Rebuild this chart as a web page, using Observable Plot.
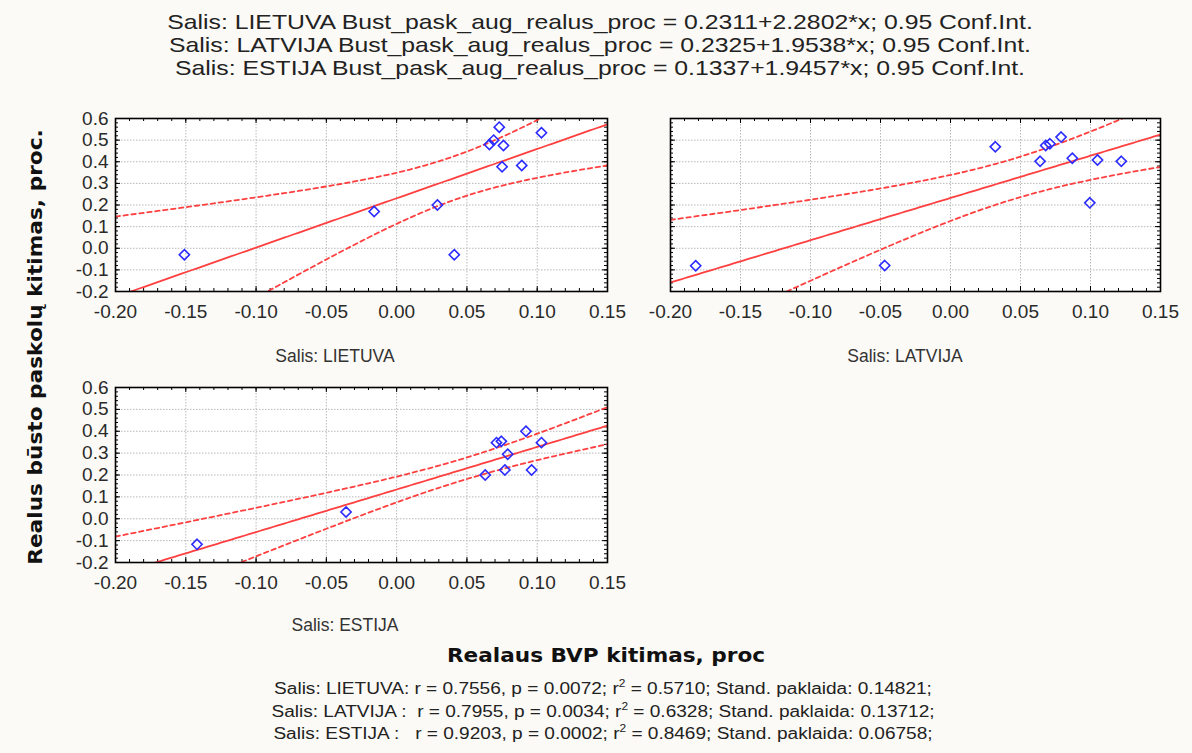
<!DOCTYPE html>
<html>
<head>
<meta charset="utf-8">
<script src="https://cdn.jsdelivr.net/npm/d3@7"></script>
<script src="https://cdn.jsdelivr.net/npm/@observablehq/plot@0.6"></script>
<style>
  body { margin: 0; background: #fcfaf6; }
  #root { position: relative; width: 1192px; height: 753px; background: #fcfaf6; overflow: hidden; font-family: "Liberation Sans", Arial, sans-serif; color: #222; }
  .c { position: absolute; transform: translate(-50%, -50%); white-space: pre; }
  .panel { position: absolute; }
</style>
</head>
<body>
<div id="root"></div>
<script>
// ---- data ----
const countries = ["LIETUVA", "LATVIJA", "ESTIJA"];
const ltX = [-0.151, -0.016, 0.029, 0.041, 0.066, 0.069, 0.073, 0.076, 0.075, 0.089, 0.103];
const ltY = [-0.030, 0.170, 0.200, -0.030, 0.480, 0.500, 0.560, 0.475, 0.377, 0.383, 0.534];
const lvX = [-0.182, -0.047, 0.032, 0.064, 0.068, 0.071, 0.079, 0.087, 0.0995, 0.105, 0.122];
const lvY = [-0.081, -0.080, 0.469, 0.402, 0.475, 0.483, 0.514, 0.416, 0.210, 0.408, 0.402];
const eeX = [-0.142, -0.036, 0.063, 0.071, 0.0745, 0.079, 0.077, 0.092, 0.096, 0.103];
const eeY = [-0.117, 0.031, 0.200, 0.348, 0.354, 0.295, 0.223, 0.400, 0.223, 0.348];
const intercepts = [0.2311, 0.2325, 0.1337];
const slopes = [2.2802, 1.9538, 1.9457];
const stdErrs = [0.14821, 0.13712, 0.06758];
const tCrit = [2.262, 2.262, 2.306];
const rVals = ["0.7556", "0.7955", "0.9203"];
const pVals = ["0.0072", "0.0034", "0.0002"];
const r2Vals = ["0.5710", "0.6328", "0.8469"];
const seLabels = ["0.14821", "0.13712", "0.06758"];
const xTicks = [-0.20, -0.15, -0.10, -0.05, 0.00, 0.05, 0.10, 0.15];
const yTicks = [-0.2, -0.1, 0.0, 0.1, 0.2, 0.3, 0.4, 0.5, 0.6];
const xMinor = d3.range(-20, 16).map(i => i / 100);
const yMinor = d3.range(-10, 31).map(i => i / 50);

const xsAll = [ltX, lvX, eeX];
const ysAll = [ltY, lvY, eeY];

const root = document.getElementById("root");

function addText(txt, cx, cy, style) {
  const d = document.createElement("div");
  d.className = "c";
  d.innerHTML = txt;
  d.style.left = cx + "px";
  d.style.top = cy + "px";
  Object.assign(d.style, style || {});
  root.appendChild(d);
  return d;
}

// ---- titles ----
countries.forEach((c, i) => {
  addText(`Salis: ${c} Bust_pask_aug_realus_proc = ${intercepts[i].toFixed(4)}+${slopes[i].toFixed(4)}*x; 0.95 Conf.Int.`,
    600, 22 + i * 23, {fontSize: "21px", color: "#222", transform: "translate(-50%, -50%) scaleX(1.18)"});
});

// ---- panels ----
const red = "#ff4040";
const blue = "#2b2bff";
const layouts = [
  {fl: 115, fr: 607, ft: 118, fb: 291, yLabels: true},
  {fl: 670, fr: 1160, ft: 118, fb: 291, yLabels: false},
  {fl: 115, fr: 607, ft: 387, fb: 562, yLabels: true}
];
const mL = 55, mR = 25, mT = 8, mB = 34;

layouts.forEach((L, i) => {
  const xs = xsAll[i], ys = ysAll[i];
  const pts = xs.map((x, j) => ({x, y: ys[j]}));
  const n = xs.length;
  const xbar = d3.mean(xs);
  const sxx = d3.sum(xs, x => (x - xbar) ** 2);
  const a = intercepts[i], b = slopes[i];
  const half = x => tCrit[i] * stdErrs[i] * Math.sqrt(1 / n + (x - xbar) ** 2 / sxx);
  const grid = d3.range(0, 141).map(k => -0.2 + k * 0.0025);
  const fit = grid.map(x => ({x, y: a + b * x}));
  const up = grid.map(x => ({x, y: a + b * x + half(x)}));
  const lo = grid.map(x => ({x, y: a + b * x - half(x)}));

  const iw = L.fr - L.fl, ih = L.fb - L.ft;
  const W = mL + iw + mR, H = mT + ih + mB;
  const fmtX = d => (d < 0 ? "-" : "") + Math.abs(d).toFixed(2);
  const fmtY = d => (d < 0 ? "-" : "") + Math.abs(d).toFixed(1);

  const marks = [
    Plot.frame({fill: "white", stroke: "none"}),
    Plot.gridX(xTicks, {stroke: "#b8b8b8", strokeOpacity: 1, strokeDasharray: "1.5,1.5"}),
    Plot.gridY(yTicks, {stroke: "#b8b8b8", strokeOpacity: 1, strokeDasharray: "1.5,1.5"}),
    // minor inward ticks
    Plot.tickX(xMinor, {x: d => d, insetTop: ih - 3, stroke: "#000"}),
    Plot.tickX(xMinor, {x: d => d, insetBottom: ih - 3, stroke: "#000"}),
    Plot.tickY(yMinor, {y: d => d, insetRight: iw - 3, stroke: "#000"}),
    Plot.tickY(yMinor, {y: d => d, insetLeft: iw - 3, stroke: "#000"}),
    Plot.tickX(xTicks, {x: d => d, insetTop: ih - 5, stroke: "#000"}),
    Plot.tickX(xTicks, {x: d => d, insetBottom: ih - 5, stroke: "#000"}),
    Plot.tickY(yTicks, {y: d => d, insetRight: iw - 5, stroke: "#000"}),
    Plot.tickY(yTicks, {y: d => d, insetLeft: iw - 5, stroke: "#000"}),
    Plot.line(up, {x: "x", y: "y", stroke: red, strokeWidth: 1.8, strokeDasharray: "4.5,3.5", clip: true}),
    Plot.line(lo, {x: "x", y: "y", stroke: red, strokeWidth: 1.8, strokeDasharray: "4.5,3.5", clip: true}),
    Plot.line(fit, {x: "x", y: "y", stroke: red, strokeWidth: 1.8, clip: true}),
    Plot.dot(pts, {x: "x", y: "y", symbol: "diamond2", r: 4.6, stroke: blue, fill: "none", strokeWidth: 1.6}),
    Plot.frame({stroke: "#000", strokeWidth: 1.6}),
    Plot.axisX({ticks: xTicks, tickSize: 0, tickPadding: 13, tickFormat: fmtX, label: null, fontSize: 19, fill: "#2a2a2a"})
  ];
  if (L.yLabels) {
    marks.push(Plot.axisY({ticks: yTicks, tickSize: 0, tickPadding: 7, tickFormat: fmtY, label: null, fontSize: 19, fill: "#2a2a2a"}));
  } else {
    marks.push(Plot.axisY({ticks: [], tickSize: 0, label: null}));
  }

  const svg = Plot.plot({
    width: W, height: H,
    marginLeft: mL, marginRight: mR, marginTop: mT, marginBottom: mB,
    style: {background: "transparent", fontFamily: "Liberation Sans, Arial, sans-serif", overflow: "visible"},
    x: {domain: [-0.2, 0.15]},
    y: {domain: [-0.2, 0.6]},
    marks
  });
  svg.classList.add("panel");
  svg.style.left = (L.fl - mL) + "px";
  svg.style.top = (L.ft - mT) + "px";
  root.appendChild(svg);
});

// ---- panel captions ----
addText("Salis: " + countries[0], 335, 356, {fontSize: "17.5px", color: "#333"});
addText("Salis: " + countries[1], 905, 356, {fontSize: "17.5px", color: "#333"});
addText("Salis: " + countries[2], 345, 625, {fontSize: "17.5px", color: "#333"});

// ---- axis titles ----
addText("Realaus BVP kitimas, proc", 606, 655, {fontFamily: "DejaVu Sans, sans-serif", fontWeight: "bold", fontSize: "20px", color: "#111", transform: "translate(-50%, -50%) scaleX(1.08)"});
addText("Realus būsto paskolų kitimas, proc.", 35, 347, {fontFamily: "DejaVu Sans, sans-serif", fontWeight: "bold", fontSize: "19px", color: "#111", transform: "translate(-50%, -50%) rotate(-90deg) scaleX(1.14)"});

// ---- statistics ----
const pads = [": ", " :  ", " :   "];
countries.forEach((c, i) => {
  addText(`Salis: ${c}${pads[i]}r = ${rVals[i]}, p = ${pVals[i]}; r<sup style="font-size:10px">2</sup> = ${r2Vals[i]}; Stand. paklaida: ${seLabels[i]};`,
    603, 688 + i * 22.5, {fontSize: "16px", color: "#222", transform: "translate(-50%, -50%) scaleX(1.19)"});
});
</script>
</body>
</html>
